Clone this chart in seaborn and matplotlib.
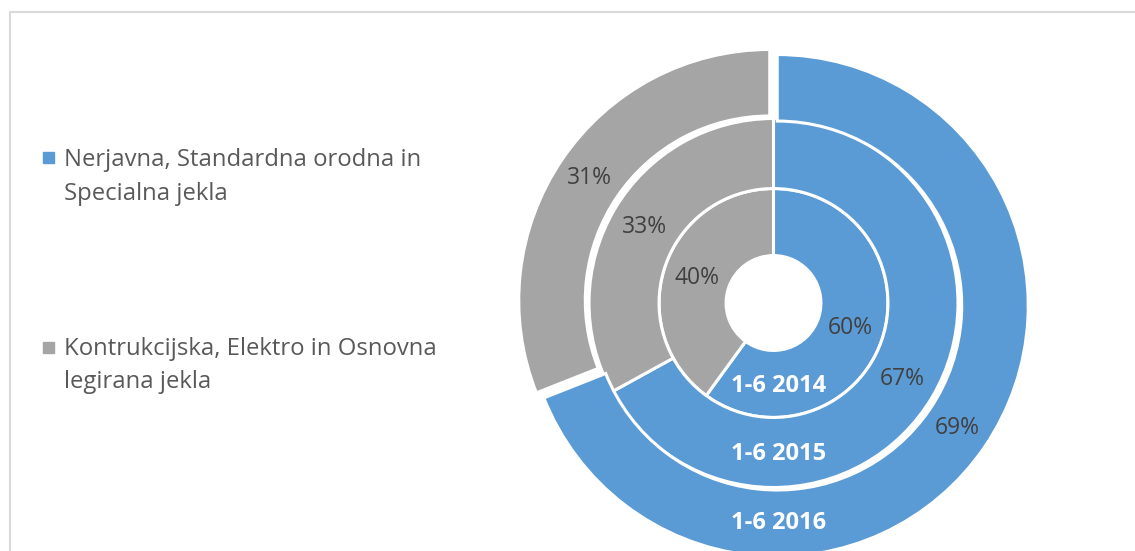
import matplotlib
matplotlib.use("Agg")
import matplotlib.pyplot as plt
from matplotlib.patches import Rectangle
import seaborn as sns

sns.set_theme(style="white")
plt.rcParams['font.family'] = ['Open Sans', 'DejaVu Sans']

# Podatki (delež v %)
kategorije = ["Nerjavna, Standardna orodna in\nSpecialna jekla",
              "Kontrukcijska, Elektro in Osnovna\nlegirana jekla"]
leta = ["1-6 2014", "1-6 2015", "1-6 2016"]
delez_2014 = [60, 40]
delez_2015 = [67, 33]
delez_2016 = [69, 31]

BLUE = "#5B9BD5"
GRAY = "#A5A5A5"
barve = [BLUE, GRAY]

W, H = 1135, 551
fig = plt.figure(figsize=(W / 100, H / 100), dpi=100)
ax = fig.add_axes([0, 0, 1, 1])

# obroči: (podatki, zunanji polmer, širina, explode)
obroci = [
    (delez_2014, 0.456, 0.267, 0.0),
    (delez_2015, 0.735, 0.279, 0.0),
    (delez_2016, 1.000, 0.265, 0.018),
]

for (vals, r, w, ex), leto in zip(obroci, leta):
    wedges, texts, autotexts = ax.pie(
        vals, radius=r, startangle=90, counterclock=False, colors=barve,
        explode=[ex] * len(vals),
        wedgeprops=dict(width=w, edgecolor="white", linewidth=2.2),
        autopct="%.0f%%", pctdistance=(r - w / 2) / r,
        textprops=dict(color="#404040", fontsize=16.5),
    )
    ax.text(0.022, -(r - w / 2) - 0.008, leto, ha="center", va="center",
            color="white", fontsize=17, fontweight="bold")

# položaj in merilo kot na izvirniku
cx, cy = 773.5, 303
rx = ry = 251
ax.set_aspect("auto")
ax.set_xlim(-cx / rx, (W - cx) / rx)
ax.set_ylim(-(H - cy) / ry, cy / ry)
ax.axis("off")

# okvir grafa
fig.patches.append(Rectangle((10 / W, -0.05), 1.1, 1 - 12 / H + 0.05,
                             transform=fig.transFigure, fill=False,
                             edgecolor="#D9D9D9", linewidth=1.5))

# legenda
leg_kvadrat = [152, 342]
leg_baseline = [[166, 200], [355, 388]]
for kat, barva, ky, bls in zip(kategorije, barve, leg_kvadrat, leg_baseline):
    fig.patches.append(Rectangle((43 / W, 1 - (ky + 11) / H), 11 / W, 11 / H,
                                 transform=fig.transFigure, color=barva))
    for vrstica, bl in zip(kat.split("\n"), bls):
        fig.text(64 / W, 1 - bl / H, vrstica, ha="left", va="baseline",
                 color="#595959", fontsize=17.2)

fig.savefig("out.png", dpi=100)
